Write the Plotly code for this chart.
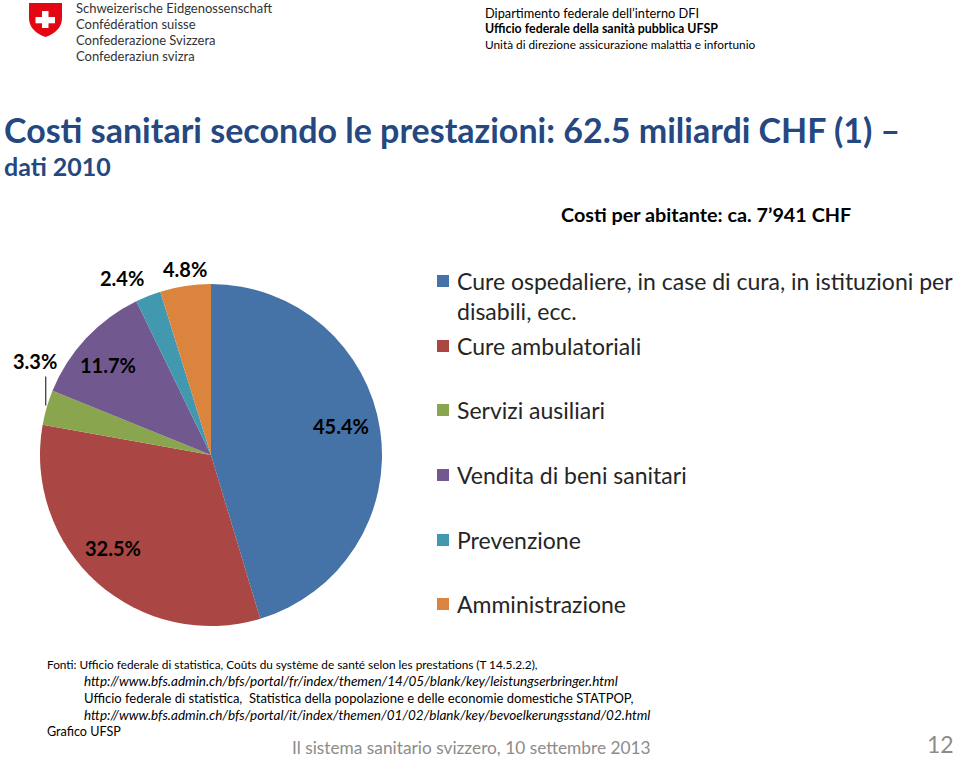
import math
import plotly.graph_objects as go

# ---------------- data ----------------
categories = [
    "Cure ospedaliere, in case di cura, in istituzioni per<br>disabili, ecc.",
    "Cure ambulatoriali",
    "Servizi ausiliari",
    "Vendita di beni sanitari",
    "Prevenzione",
    "Amministrazione",
]
shares = [45.4, 32.5, 3.3, 11.7, 2.4, 4.8]
colors = ["#4572A7", "#AA4643", "#89A54E", "#71588F", "#4198AF", "#DB843D"]

W, H = 960, 759
FONT = "Lato, Carlito, 'Open Sans', sans-serif"


def px(x):
    return x / W


def py(y):
    return 1 - y / H


# pie geometry (pixels)
CX, CY, R = 211, 455, 171

fig = go.Figure()
fig.add_trace(go.Pie(
    labels=[c.replace("<br>", " ") for c in categories],
    values=shares,
    marker=dict(colors=colors, line=dict(width=0)),
    sort=False,
    direction="clockwise",
    rotation=0,
    textinfo="none",
    hoverinfo="label+value",
    showlegend=False,
    domain=dict(x=[px(CX - R), px(CX + R)], y=[py(CY + R), py(CY - R)]),
))

annotations = []
shapes = []

# ---------- pie data labels (positions derived from the data) ----------
label_radius = [0.78, 0.79, None, 0.80, 1.16, 1.10]
label_shift = [-4, 5, 0, -2, -5, 0.6]   # degrees
total = sum(shares)
cum = 0
for i, v in enumerate(shares):
    mid = (cum + v / 2) / total * 360
    cum += v
    txt = f"<b>{v:.1f}%</b>"
    if label_radius[i] is None:
        # leader-line label
        a = math.radians(mid)
        ex = CX + R * math.sin(a)
        ey = CY - R * math.cos(a)
        shapes.append(dict(type="line", xref="paper", yref="paper",
                           x0=px(ex - 1), x1=px(ex - 1), y0=py(ey - 2), y1=py(ey - 31),
                           line=dict(color="#404040", width=1.3)))
        annotations.append(dict(x=px(ex - 12), y=py(ey - 47), text=txt,
                                showarrow=False, xanchor="center", yanchor="middle",
                                font=dict(size=20, color="#000000", family=FONT)))
    else:
        a = math.radians(mid + label_shift[i])
        lx = CX + label_radius[i] * R * math.sin(a)
        ly = CY - label_radius[i] * R * math.cos(a)
        annotations.append(dict(x=px(lx), y=py(ly), text=txt,
                                showarrow=False, xanchor="center", yanchor="middle",
                                font=dict(size=20, color="#000000", family=FONT)))

# ---------- custom legend ----------
legend_y = [281, 346, 410, 475, 540, 604]
for i, (c, col) in enumerate(zip(categories, colors)):
    yc = legend_y[i]
    shapes.append(dict(type="rect", xref="paper", yref="paper",
                       x0=px(437), x1=px(449), y0=py(yc + 6), y1=py(yc - 6),
                       fillcolor=col, line=dict(width=0)))
    annotations.append(dict(x=px(455), y=py(yc - 16), text=c, align="left",
                            showarrow=False, xanchor="left", yanchor="top",
                            font=dict(size=23, color="#262626", family=FONT)))

# ---------- header: logo ----------
shield = (f"M {px(29)},{py(3)} L {px(62)},{py(3)} L {px(62)},{py(18)} "
          f"Q {px(62)},{py(31)} {px(45.5)},{py(37)} Q {px(29)},{py(31)} {px(29)},{py(18)} Z")
shapes.append(dict(type="path", xref="paper", yref="paper", path=shield,
                   fillcolor="#E30613", line=dict(width=0)))
shapes.append(dict(type="rect", xref="paper", yref="paper",
                   x0=px(42), x1=px(48.5), y0=py(28), y1=py(11),
                   fillcolor="white", line=dict(width=0)))
shapes.append(dict(type="rect", xref="paper", yref="paper",
                   x0=px(35.5), x1=px(55), y0=py(23.3), y1=py(17),
                   fillcolor="white", line=dict(width=0)))

logo_lines = ["Schweizerische Eidgenossenschaft", "Confédération suisse",
              "Confederazione Svizzera", "Confederaziun svizra"]
for k, t in enumerate(logo_lines):
    annotations.append(dict(x=px(74), y=py(8 + 16 * k), text=t, showarrow=False,
                            xanchor="left", yanchor="middle",
                            font=dict(size=13, color="#333333", family=FONT)))

header_lines = [("Dipartimento federale dell’interno DFI", 12.8),
                ("<b>Ufficio federale della sanità pubblica UFSP</b>", 12.4),
                ("Unità di direzione assicurazione malattia e infortunio", 11.8)]
for k, (t, s) in enumerate(header_lines):
    annotations.append(dict(x=px(483), y=py(13 + 15.5 * k), text=t, showarrow=False,
                            xanchor="left", yanchor="middle",
                            font=dict(size=s, color="#000000", family=FONT)))

# ---------- titles ----------
annotations.append(dict(x=px(2), y=py(130),
                        text="<b>Costi sanitari secondo le prestazioni: 62.5 miliardi CHF (1) –</b>",
                        showarrow=False, xanchor="left", yanchor="middle",
                        font=dict(size=34, color="#24487F", family=FONT)))
annotations.append(dict(x=px(2), y=py(166), text="<b>dati 2010</b>",
                        showarrow=False, xanchor="left", yanchor="middle",
                        font=dict(size=25, color="#24487F", family=FONT)))
annotations.append(dict(x=px(853), y=py(214), text="<b>Costi per abitante: ca. 7’941 CHF</b>",
                        showarrow=False, xanchor="right", yanchor="middle",
                        font=dict(size=19.8, color="#000000", family=FONT)))

# ---------- sources ----------
src = [
    (45, 664, 11.8, "Fonti: Ufficio federale di statistica, Coûts du système de santé selon les prestations (T 14.5.2.2),"),
    (82, 681, 13.5, "<i>http://www.bfs.admin.ch/bfs/portal/fr/index/themen/14/05/blank/key/leistungserbringer.html</i>"),
    (82, 698, 13.0, "Ufficio federale di statistica,  Statistica della popolazione e delle economie domestiche STATPOP,"),
    (82, 715, 13.5, "<i>http://www.bfs.admin.ch/bfs/portal/it/index/themen/01/02/blank/key/bevoelkerungsstand/02.html</i>"),
    (45, 731, 12.6, "Grafico UFSP"),
]
for x, y, s, t in src:
    annotations.append(dict(x=px(x), y=py(y), text=t, showarrow=False,
                            xanchor="left", yanchor="middle",
                            font=dict(size=s, color="#000000", family=FONT)))

annotations.append(dict(x=px(653), y=py(747), text="Il sistema sanitario svizzero, 10 settembre 2013",
                        showarrow=False, xanchor="right", yanchor="middle",
                        font=dict(size=17.3, color="#8C8C8C", family=FONT)))
annotations.append(dict(x=px(956), y=py(744), text="12",
                        showarrow=False, xanchor="right", yanchor="middle",
                        font=dict(size=23, color="#8C8C8C", family=FONT)))

fig.update_layout(
    width=W, height=H,
    margin=dict(l=0, r=0, t=0, b=0),
    paper_bgcolor="white", plot_bgcolor="white",
    annotations=annotations, shapes=shapes,
    font=dict(family=FONT),
)

fig.write_html("out.html")
